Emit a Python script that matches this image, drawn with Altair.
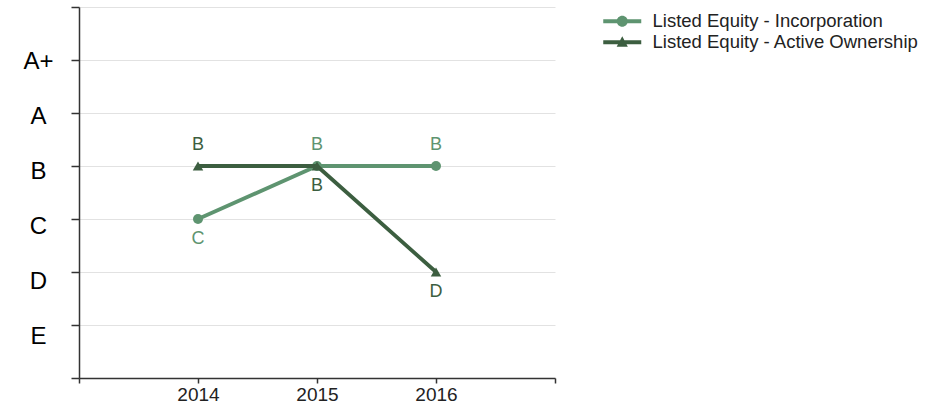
import altair as alt
import pandas as pd

# Rating history for two listed-equity modules
years = [2014, 2015, 2016]
series_names = ["Listed Equity - Incorporation", "Listed Equity - Active Ownership"]
incorporation = ["C", "B", "B"]
active_ownership = ["B", "B", "D"]

# Rating scale from lowest to highest
grades = ["E", "D", "C", "B", "A", "A+"]

colors = ["#5e9470", "#3c5e40"]
marker_shapes = ["circle", "triangle-up"]

# Legend symbols: a short line segment with the series marker on it
legend_circle = (
    "M-2.375,-0.25H2.375V0.25H-2.375Z"
    "M-0.69,0A0.69,0.69 0 1,1 0.69,0A0.69,0.69 0 1,1 -0.69,0Z"
)
legend_triangle = (
    "M-2.375,-0.25H2.375V0.25H-2.375Z"
    "M0,-0.75L0.7,0.55L-0.7,0.55Z"
)

rows = []
for name, values in zip(series_names, [incorporation, active_ownership]):
    for yr, g in zip(years, values):
        rows.append({"series": name, "year": yr, "grade": g, "rank": grades.index(g) + 1})
df = pd.DataFrame(rows)

# Place each value label above or below its point so the two series don't collide
inc_rank = dict(zip(years, [grades.index(g) + 1 for g in incorporation]))
act_rank = dict(zip(years, [grades.index(g) + 1 for g in active_ownership]))


def label_above(r):
    if r["series"] == series_names[0]:
        return inc_rank[r["year"]] >= act_rank[r["year"]]
    return act_rank[r["year"]] > inc_rank[r["year"]]


df["above"] = df.apply(label_above, axis=1)

font = "Liberation Sans"
axis_color = "#333333"
tick_labels = "['', " + ", ".join(f"'{g}'" for g in grades) + ", ''][datum.value]"

x_enc = alt.X(
    "year:Q",
    scale=alt.Scale(domain=[2013, 2017], nice=False, zero=False),
    axis=alt.Axis(
        values=[2013, 2014, 2015, 2016, 2017],
        labelExpr="datum.value == 2013 || datum.value == 2017 ? '' : datum.value",
        grid=False,
        tickSize=5,
        tickColor=axis_color,
        domainColor=axis_color,
        domainWidth=1.5,
        tickWidth=1.5,
        labelFont=font,
        labelFontSize=19,
        labelColor="#222222",
        labelPadding=2,
        title=None,
    ),
)
y_enc = alt.Y(
    "rank:Q",
    scale=alt.Scale(domain=[0, 7], nice=False, zero=False),
    axis=alt.Axis(
        values=[0, 1, 2, 3, 4, 5, 6, 7],
        labelExpr=tick_labels,
        grid=True,
        gridColor="#e2e2e2",
        gridWidth=1,
        tickSize=8,
        tickColor=axis_color,
        domainColor=axis_color,
        domainWidth=1.5,
        tickWidth=1.5,
        labelFont=font,
        labelFontSize=24,
        labelColor="#000000",
        labelAlign="center",
        labelPadding=33,
        labelOffset=alt.ExprRef("1.5 + (6 - datum.value) * 2"),
        title=None,
    ),
)

base = alt.Chart(df)

layers = []
for name, shape, col in zip(series_names, marker_shapes, colors):
    part = base.transform_filter(alt.datum.series == name)
    layers.append(part.mark_line(strokeWidth=3.8, color=col).encode(x=x_enc, y=y_enc))
    layers.append(
        part.mark_point(
            filled=True, shape=shape, size=100 if shape == "circle" else 110, opacity=1, color=col
        ).encode(x=x_enc, y=y_enc)
    )

for name, col in zip(series_names, colors):
    part = base.transform_filter(alt.datum.series == name)
    layers.append(
        part.transform_filter("datum.above")
        .mark_text(dy=-21, font=font, fontSize=18, color=col)
        .encode(x=x_enc, y=y_enc, text="grade:N")
    )
    layers.append(
        part.transform_filter("!datum.above")
        .mark_text(dy=20, font=font, fontSize=18, color=col)
        .encode(x=x_enc, y=y_enc, text="grade:N")
    )

legend_def = alt.Legend(
    title=None,
    orient="none",
    legendX=534,
    legendY=5,
    labelFont=font,
    labelFontSize=18.5,
    labelColor="#222222",
    labelLimit=400,
    symbolSize=256,
    symbolStrokeWidth=0,
    symbolOpacity=1,
    labelOffset=21,
    rowPadding=2,
    padding=0,
)
legend_layer = base.mark_point(filled=True, size=0).encode(
    x=x_enc,
    y=y_enc,
    color=alt.Color("series:N", scale=alt.Scale(domain=series_names, range=colors), legend=legend_def),
    shape=alt.Shape(
        "series:N",
        scale=alt.Scale(domain=series_names, range=[legend_circle, legend_triangle]),
        legend=legend_def,
    ),
)

chart = (
    alt.layer(legend_layer, *layers)
    .properties(
        width=476,
        height=371,
        autosize=alt.AutoSizeParams(type="none"),
        padding={"left": 79, "top": 7, "right": 389, "bottom": 27},
    )
    .configure(background="white")
    .configure_view(stroke="transparent", strokeWidth=0)
)

chart.save("out.html", embed_options={"renderer": "svg", "actions": False})
